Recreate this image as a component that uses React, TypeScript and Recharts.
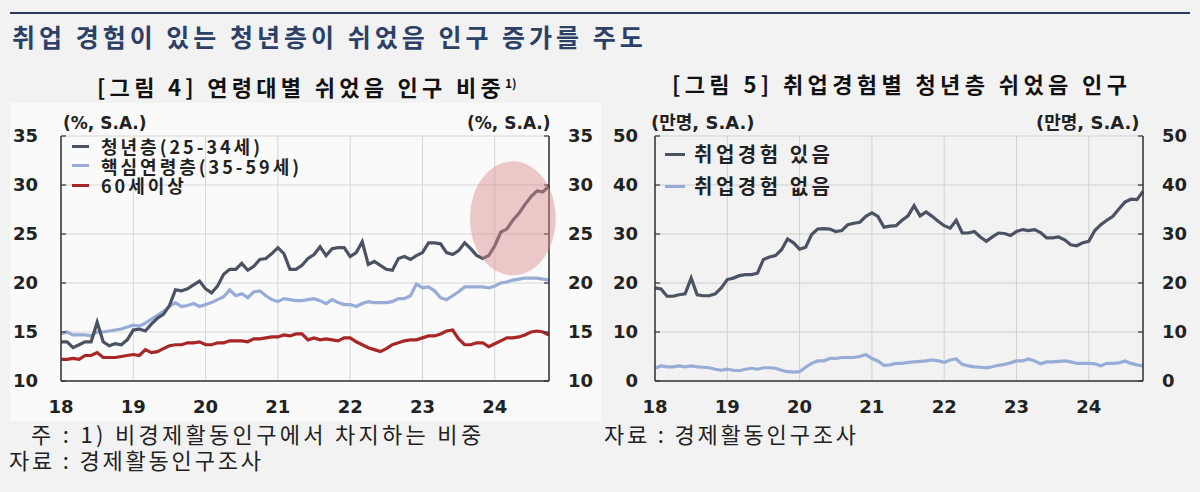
import { LineChart, Line, XAxis, YAxis, CartesianGrid, ReferenceDot } from "recharts";

// monthly, Jan 2018 .. Oct 2024
const yearLabels = ["18", "19", "20", "21", "22", "23", "24"];

// [그림 4] share of "just rested" population by age group (%)
const youth = [
  14.0, 14.0, 13.4, 13.7, 14.0, 14.0, 16.0, 14.0, 13.6, 13.8, 13.7, 14.2,
  15.2, 15.3, 15.1, 15.8, 16.4, 16.8, 17.7, 19.3, 19.2, 19.4, 19.8, 20.2,
  19.4, 19.0, 19.7, 20.9, 21.4, 21.4, 22.0, 21.3, 21.7, 22.4, 22.5, 23.0,
  23.6, 23.0, 21.4, 21.4, 21.8, 22.5, 22.9, 23.7, 22.8, 23.5, 23.6, 23.6,
  22.7, 23.1, 24.2, 21.9, 22.2, 21.8, 21.4, 21.3, 22.5, 22.7, 22.4, 22.8,
  23.1, 24.1, 24.1, 24.0, 23.1, 22.9, 23.3, 24.1, 23.5, 22.8, 22.5, 22.8,
  23.8, 25.2, 25.5, 26.4, 27.1, 28.0, 28.8, 29.4, 29.3, 29.9,
];
const coreAge = [
  14.8, 15.0, 14.7, 14.7, 14.7, 14.6, 15.0, 15.0, 15.1, 15.2, 15.3, 15.5,
  15.7, 15.6, 15.9, 16.3, 16.7, 17.1, 17.6, 18.0, 17.6, 17.7, 17.9, 17.6,
  17.8, 18.0, 18.3, 18.6, 19.3, 18.7, 18.9, 18.5, 19.1, 19.2, 18.7, 18.3,
  18.1, 18.4, 18.3, 18.2, 18.2, 18.3, 18.4, 18.2, 17.9, 18.3, 18.0, 17.8,
  17.8, 17.6, 17.9, 18.1, 18.0, 18.0, 18.0, 18.1, 18.4, 18.4, 18.7, 19.9,
  19.5, 19.6, 19.2, 18.5, 18.3, 18.7, 19.1, 19.6, 19.6, 19.6, 19.6, 19.5,
  19.7, 20.0, 20.1, 20.3, 20.4, 20.5, 20.5, 20.5, 20.4, 20.3,
];
const senior = [
  12.2, 12.2, 12.3, 12.2, 12.6, 12.6, 12.9, 12.4, 12.4, 12.4, 12.5, 12.6,
  12.7, 12.6, 13.2, 12.9, 13.0, 13.3, 13.6, 13.7, 13.7, 13.9, 13.9, 14.0,
  13.7, 13.7, 13.9, 13.9, 14.1, 14.1, 14.1, 14.0, 14.3, 14.3, 14.4, 14.5,
  14.5, 14.7, 14.6, 14.8, 14.8, 14.2, 14.4, 14.2, 14.3, 14.2, 14.1, 14.4,
  14.4, 14.0, 13.7, 13.4, 13.2, 13.0, 13.3, 13.7, 13.9, 14.1, 14.2, 14.2,
  14.4, 14.6, 14.6, 14.8, 15.1, 15.2, 14.3, 13.7, 13.7, 13.9, 13.9, 13.5,
  13.8, 14.1, 14.4, 14.4, 14.5, 14.7, 15.0, 15.1, 15.0, 14.7,
];

// [그림 5] youth "just rested" population by work experience (10k persons)
const withExp = [
  19.0, 18.8, 17.3, 17.3, 17.6, 17.8, 21.0, 17.6, 17.4, 17.4, 17.8, 19.0,
  20.7, 21.0, 21.5, 21.7, 21.7, 22.0, 24.8, 25.3, 25.6, 26.8, 29.0, 28.2,
  26.9, 27.3, 29.9, 31.0, 31.1, 31.0, 30.5, 30.7, 31.9, 32.2, 32.4, 33.6,
  34.3, 33.6, 31.4, 31.6, 31.7, 32.8, 33.7, 35.8, 33.7, 34.5, 33.6, 32.6,
  31.7, 31.2, 32.8, 30.2, 30.2, 30.5, 29.4, 28.5, 29.4, 30.2, 30.1, 29.7,
  30.5, 30.9, 30.7, 30.9, 30.3, 29.2, 29.2, 29.4, 28.8, 27.8, 27.6, 28.2,
  28.5, 30.7, 31.9, 32.8, 33.6, 35.1, 36.5, 37.1, 37.0, 38.7,
];
const withoutExp = [
  2.6, 3.1, 2.9, 2.9, 3.1, 2.9, 3.1, 2.9, 2.8, 2.7, 2.4, 2.2,
  2.4, 2.2, 2.1, 2.4, 2.6, 2.4, 2.7, 2.7, 2.6, 2.2, 1.9, 1.8,
  1.9, 2.8, 3.6, 4.1, 4.1, 4.6, 4.6, 4.8, 4.8, 4.8, 5.0, 5.4,
  4.6, 4.1, 3.2, 3.3, 3.6, 3.6, 3.8, 3.9, 4.0, 4.1, 4.3, 4.1,
  3.8, 4.3, 4.5, 3.4, 3.1, 2.9, 2.8, 2.7, 2.9, 3.2, 3.4, 3.7,
  4.1, 4.1, 4.5, 4.1, 3.5, 3.9, 3.9, 4.0, 4.1, 3.9, 3.6, 3.6,
  3.6, 3.5, 3.1, 3.6, 3.6, 3.7, 4.1, 3.6, 3.3, 3.1,
];

const leftTicks = [10, 15, 20, 25, 30, 35];
const rightTicks = [0, 10, 20, 30, 40, 50];

const ageData = youth.map((v, i) => ({ idx: i, youth: v, core: coreAge[i], senior: senior[i] }));
const expData = withExp.map((v, i) => ({ idx: i, yes: v, no: withoutExp[i] }));
const lastIdx = youth.length - 1;
const xTicks = yearLabels.map((_, i) => i * 12);

const KR = '"Noto Sans CJK KR", "Noto Sans", sans-serif';
const NUM = '"DejaVu Sans", "Noto Sans CJK KR", sans-serif';

const DARK = "#4a5263";
const LIGHT = "#98acd8";
const RED = "#a82626";

const tickStyle = { fill: "#222", fontSize: 18, fontWeight: 700, fontFamily: NUM };
const axisLine = { stroke: "#333", strokeWidth: 1.5 };
const tickLine = { stroke: "#333", strokeWidth: 1.2 };

const ageLegend = [
  { label: "청년층(25-34세)", color: DARK },
  { label: "핵심연령층(35-59세)", color: LIGHT },
  { label: "60세이상", color: RED },
];
const expLegend = [
  { label: "취업경험 있음", color: DARK },
  { label: "취업경험 없음", color: LIGHT },
];

function Txt({ x, y, size, children, style }: any) {
  return (
    <div
      style={{
        position: "absolute",
        left: x,
        top: y - size / 2,
        fontSize: size,
        lineHeight: `${size}px`,
        whiteSpace: "nowrap",
        ...style,
      }}
    >
      {children}
    </div>
  );
}

function xAxis() {
  return (
    <XAxis
      dataKey="idx"
      type="number"
      domain={[0, lastIdx]}
      ticks={xTicks}
      interval={0}
      tickFormatter={(v: number) => yearLabels[v / 12]}
      axisLine={axisLine}
      tickLine={false}
      tickSize={0}
      tickMargin={19}
      height={31}
      tick={tickStyle}
    />
  );
}

function AgeChart() {
  return (
    <LineChart width={600} height={320} data={ageData} margin={{ top: 36, right: 0, bottom: 8, left: 0 }}>
      <CartesianGrid stroke="#d6d6d6" strokeWidth={1} />
      {xAxis()}
      <YAxis
        domain={[10, 35]}
        ticks={leftTicks}
        interval={0}
        width={61}
        axisLine={axisLine}
        tickLine={tickLine}
        tickSize={-5}
        tickMargin={28}
        tick={tickStyle}
      />
      <YAxis
        yAxisId="r"
        orientation="right"
        domain={[10, 35]}
        ticks={leftTicks}
        interval={0}
        width={51}
        axisLine={axisLine}
        tickLine={tickLine}
        tickSize={-5}
        tickMargin={24}
        tick={tickStyle}
      />
      <Line dataKey="senior" stroke={RED} strokeWidth={3.2} dot={false} isAnimationActive={false} />
      <Line dataKey="core" stroke={LIGHT} strokeWidth={3.2} dot={false} isAnimationActive={false} />
      <Line yAxisId="r" dataKey="youth" stroke={DARK} strokeWidth={3.2} dot={false} isAnimationActive={false} />
      <ReferenceDot
        x={75}
        y={26.6}
        r={0}
        shape={(p: any) => <ellipse cx={p.cx} cy={p.cy} rx={43} ry={57} fill="#d98c8a" fillOpacity={0.45} />}
      />
    </LineChart>
  );
}

function ExpChart() {
  return (
    <LineChart width={600} height={320} data={expData} margin={{ top: 36, right: 0, bottom: 8, left: 0 }}>
      <CartesianGrid stroke="#d0d0d0" strokeWidth={1} />
      {xAxis()}
      <YAxis
        domain={[0, 50]}
        ticks={rightTicks}
        interval={0}
        width={55}
        axisLine={axisLine}
        tickLine={tickLine}
        tickSize={-5}
        tickMargin={22}
        tick={tickStyle}
      />
      <YAxis
        yAxisId="r"
        orientation="right"
        domain={[0, 50]}
        ticks={rightTicks}
        interval={0}
        width={57}
        axisLine={axisLine}
        tickLine={tickLine}
        tickSize={-5}
        tickMargin={24}
        tick={tickStyle}
      />
      <Line dataKey="no" stroke={LIGHT} strokeWidth={3.2} dot={false} isAnimationActive={false} />
      <Line yAxisId="r" dataKey="yes" stroke={DARK} strokeWidth={3.2} dot={false} isAnimationActive={false} />
    </LineChart>
  );
}

function LegendBox({ items, x, y, gap, size, lineW, textX, spacing }: any) {
  return (
    <>
      {items.map((it: any, k: number) => (
        <div key={it.label}>
          <div
            style={{
              position: "absolute",
              left: x,
              top: y + k * gap - 1.5,
              width: lineW,
              height: 3,
              background: it.color,
            }}
          />
          <Txt
            x={textX}
            y={y + k * gap}
            size={size}
            style={{ fontFamily: KR, fontWeight: 700, color: "#222", letterSpacing: spacing }}
          >
            {it.label}
          </Txt>
        </div>
      ))}
    </>
  );
}

export default function App() {
  const unit = { fontFamily: NUM, fontWeight: 700, color: "#222" };
  const note = { fontFamily: KR, color: "#222" };
  return (
    <div
      style={{
        position: "absolute",
        left: 0,
        top: 0,
        width: 1200,
        height: 492,
        background: "#f2f2f2",
        overflow: "hidden",
      }}
    >
      <div style={{ position: "absolute", left: 10, top: 12, width: 1180, height: 2, background: "#2b3b5e" }} />
      <Txt x={12} y={36} size={25} style={{ fontFamily: KR, fontWeight: 700, color: "#2d4066", letterSpacing: 4 }}>
        취업 경험이 있는 청년층이 쉬었음 인구 증가를 주도
      </Txt>

      <div style={{ position: "absolute", left: 10, top: 103, width: 591, height: 318, background: "#fafafa" }} />

      <Txt x={97} y={83} size={22} style={{ fontFamily: KR, fontWeight: 700, color: "#111", letterSpacing: 4.3 }}>
        [그림 4] 연령대별 쉬었음 인구 비중
        <sup style={{ fontSize: 12, letterSpacing: 0, verticalAlign: "8px" }}>1)</sup>
      </Txt>
      <Txt x={672} y={83} size={22} style={{ fontFamily: KR, fontWeight: 700, color: "#111", letterSpacing: 4.4 }}>
        [그림 5] 취업경험별 청년층 쉬었음 인구
      </Txt>

      <div style={{ position: "absolute", left: 0, top: 100 }}>
        <AgeChart />
      </div>
      <div style={{ position: "absolute", left: 600, top: 100 }}>
        <ExpChart />
      </div>

      <Txt x={63} y={123} size={17} style={unit}>(%, S.A.)</Txt>
      <Txt x={467} y={123} size={17} style={unit}>(%, S.A.)</Txt>
      <Txt x={651} y={123} size={18} style={unit}>(만명, S.A.)</Txt>
      <Txt x={1036} y={123} size={18} style={unit}>(만명, S.A.)</Txt>

      <LegendBox items={ageLegend} x={72} y={146} gap={19.5} size={18} lineW={17} textX={101} spacing={3} />
      <LegendBox items={expLegend} x={665} y={154} gap={32} size={20} lineW={20} textX={694} spacing={3.5} />

      <Txt x={31} y={433} size={22} style={{ ...note, letterSpacing: 3.3 }}>
        주 : 1) 비경제활동인구에서 차지하는 비중
      </Txt>
      <Txt x={9} y={459} size={22} style={{ ...note, letterSpacing: 2.8 }}>
        자료 : 경제활동인구조사
      </Txt>
      <Txt x={604} y={433} size={22} style={{ ...note, letterSpacing: 2.8 }}>
        자료 : 경제활동인구조사
      </Txt>
    </div>
  );
}
